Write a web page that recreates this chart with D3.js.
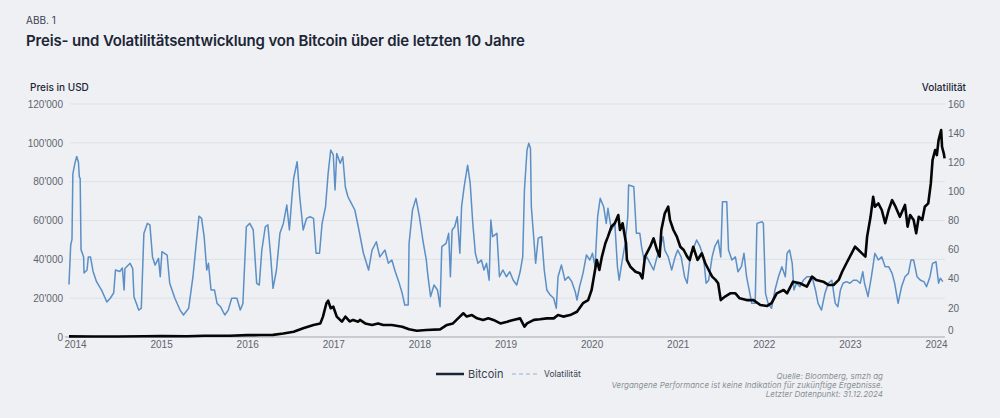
<!DOCTYPE html>
<html>
<head>
<meta charset="utf-8">
<script src="https://cdn.jsdelivr.net/npm/d3@7"></script>
<style>
  html, body { margin: 0; padding: 0; background: #eef0f3; }
  svg { display: block; font-family: Inter, "Noto Sans", sans-serif; }
  .grid line { stroke: #dde1e7; stroke-width: 1; }
  .tick text { fill: #5f656e; font-size: 10px; }
</style>
</head>
<body>
<div id="chart"></div>
<script>
// time axis is in "chart years" as labelled on the picture
var yearTicks = [2014, 2015, 2016, 2017, 2018, 2019, 2020, 2021, 2022, 2023, 2024];
var priceTicks = [0, 20000, 40000, 60000, 80000, 100000, 120000];
var volTicks = [0, 20, 40, 60, 80, 100, 120, 140, 160];

// Bitcoin price in USD
var btcTime = [2013.93, 2014.2, 2014.5, 2014.8, 2015.0, 2015.3, 2015.5, 2015.8, 2016.0, 2016.15, 2016.30, 2016.42,
  2016.54, 2016.65, 2016.77, 2016.85, 2016.88, 2016.92, 2016.94, 2016.97, 2017.00, 2017.04, 2017.10, 2017.14,
  2017.19, 2017.23, 2017.29, 2017.31, 2017.37, 2017.45, 2017.52, 2017.58, 2017.68, 2017.80, 2017.88, 2017.97,
  2018.08, 2018.24, 2018.32, 2018.39, 2018.47, 2018.51, 2018.55, 2018.61, 2018.67, 2018.74, 2018.80, 2018.86,
  2018.94, 2019.02, 2019.09, 2019.17, 2019.22, 2019.25, 2019.33, 2019.40, 2019.48, 2019.56, 2019.61, 2019.67,
  2019.75, 2019.83, 2019.90, 2019.96, 2020.00, 2020.04, 2020.06, 2020.09, 2020.12, 2020.16, 2020.19, 2020.23,
  2020.27, 2020.31, 2020.33, 2020.36, 2020.40, 2020.41, 2020.45, 2020.51, 2020.56, 2020.59, 2020.62, 2020.68,
  2020.72, 2020.76, 2020.79, 2020.81, 2020.85, 2020.89, 2020.91, 2020.95, 2020.99, 2021.03, 2021.07, 2021.11,
  2021.14, 2021.18, 2021.23, 2021.28, 2021.32, 2021.36, 2021.40, 2021.44, 2021.47, 2021.50, 2021.55, 2021.61,
  2021.67, 2021.72, 2021.80, 2021.88, 2021.96, 2022.04, 2022.09, 2022.15, 2022.23, 2022.27, 2022.34, 2022.42,
  2022.50, 2022.56, 2022.61, 2022.69, 2022.75, 2022.81, 2022.87, 2022.91, 2022.96, 2023.02, 2023.06, 2023.10,
  2023.14, 2023.18, 2023.20, 2023.24, 2023.27, 2023.29, 2023.33, 2023.37, 2023.41, 2023.45, 2023.49, 2023.53,
  2023.58, 2023.64, 2023.67, 2023.70, 2023.74, 2023.77, 2023.80, 2023.84, 2023.87, 2023.91, 2023.94, 2023.96,
  2023.99, 2024.01, 2024.03, 2024.06, 2024.07, 2024.09, 2024.10];
var btcPrice = [300, 250, 250, 380, 430, 420, 650, 620, 960, 1000, 1100, 1800,
  2700, 4500, 6200, 7000, 10500, 17400, 18700, 14800, 15600, 10500, 7900, 10500,
  8000, 8800, 7900, 8800, 7000, 6200, 7000, 6200, 6200, 5300, 3950, 3250,
  3600, 3950, 6200, 7000, 10500, 12200, 10500, 11300, 9600, 8800, 9600, 8800,
  7000, 7900, 8800, 9600, 5300, 7000, 8800, 9100, 9600, 9600, 11300, 10500,
  11300, 13000, 17400, 19000, 24200, 34500, 39700, 34500, 41400, 48300, 51700, 56800,
  58600, 62800, 55100, 58600, 48300, 39700, 36200, 33600, 32800, 30200, 41400, 46500,
  50800, 44800, 41400, 55100, 63700, 67100, 60300, 55100, 51700, 46500, 44800, 41400,
  39700, 46500, 39700, 43100, 38000, 34500, 31100, 29400, 27700, 19000, 20800, 22500,
  22500, 19900, 19000, 19000, 16500, 16000, 17400, 22500, 24200, 22500, 28500, 27700,
  25900, 31100, 29400, 28500, 26800, 26800, 29400, 33600, 38000, 43100, 46500, 44800,
  43100, 41400, 51700, 61900, 72200, 67100, 68800, 65400, 58600, 65400, 70500, 67100,
  61900, 68000, 56800, 62800, 60300, 53400, 61900, 60300, 67100, 68800, 79100, 91100,
  96300, 93700, 101400, 106600, 98000, 94600, 92000];

// Volatility
var volTime = [2013.93, 2013.95, 2013.965, 2013.975, 2014.00, 2014.02, 2014.04, 2014.05, 2014.06, 2014.07, 2014.10,
  2014.105, 2014.14, 2014.155, 2014.18, 2014.21, 2014.25, 2014.31, 2014.37, 2014.41, 2014.45, 2014.47, 2014.52,
  2014.55, 2014.57, 2014.58, 2014.64, 2014.67, 2014.685, 2014.74, 2014.77, 2014.80, 2014.84, 2014.87, 2014.90,
  2014.93, 2014.97, 2014.99, 2015.01, 2015.07, 2015.10, 2015.16, 2015.22, 2015.26, 2015.32, 2015.37, 2015.41,
  2015.44, 2015.47, 2015.50, 2015.53, 2015.55, 2015.58, 2015.62, 2015.65, 2015.69, 2015.74, 2015.78, 2015.82,
  2015.88, 2015.92, 2015.95, 2015.99, 2016.03, 2016.07, 2016.11, 2016.14, 2016.17, 2016.21, 2016.24, 2016.27,
  2016.30, 2016.34, 2016.38, 2016.42, 2016.46, 2016.49, 2016.52, 2016.54, 2016.58, 2016.61, 2016.65, 2016.69,
  2016.73, 2016.77, 2016.80, 2016.84, 2016.87, 2016.91, 2016.94, 2016.97, 2017.00, 2017.02, 2017.04, 2017.08,
  2017.11, 2017.14, 2017.17, 2017.21, 2017.25, 2017.29, 2017.35, 2017.41, 2017.45, 2017.50, 2017.54, 2017.60,
  2017.64, 2017.68, 2017.72, 2017.76, 2017.80, 2017.83, 2017.87, 2017.88, 2017.92, 2017.96, 2018.00, 2018.04,
  2018.08, 2018.10, 2018.13, 2018.17, 2018.21, 2018.24, 2018.26, 2018.31, 2018.34, 2018.36, 2018.38, 2018.41,
  2018.44, 2018.47, 2018.49, 2018.52, 2018.56, 2018.59, 2018.62, 2018.65, 2018.68, 2018.72, 2018.75, 2018.78,
  2018.81, 2018.83, 2018.85, 2018.90, 2018.93, 2018.97, 2019.01, 2019.05, 2019.09, 2019.13, 2019.17, 2019.20,
  2019.22, 2019.25, 2019.27, 2019.29, 2019.30, 2019.33, 2019.35, 2019.38, 2019.42, 2019.45, 2019.48, 2019.52,
  2019.56, 2019.59, 2019.61, 2019.65, 2019.69, 2019.73, 2019.77, 2019.81, 2019.83, 2019.86, 2019.90, 2019.94,
  2019.98, 2020.01, 2020.04, 2020.07, 2020.10, 2020.14, 2020.17, 2020.19, 2020.23, 2020.27, 2020.30, 2020.32,
  2020.35, 2020.39, 2020.42, 2020.43, 2020.49, 2020.52, 2020.56, 2020.58, 2020.61, 2020.64, 2020.68, 2020.72,
  2020.76, 2020.80, 2020.83, 2020.85, 2020.89, 2020.93, 2020.97, 2021.00, 2021.04, 2021.08, 2021.11, 2021.15,
  2021.19, 2021.22, 2021.26, 2021.30, 2021.33, 2021.36, 2021.40, 2021.43, 2021.47, 2021.50, 2021.52, 2021.57,
  2021.59, 2021.63, 2021.67, 2021.70, 2021.74, 2021.77, 2021.80, 2021.83, 2021.86, 2021.90, 2021.92, 2021.98,
  2021.995, 2022.02, 2022.05, 2022.09, 2022.13, 2022.17, 2022.21, 2022.25, 2022.27, 2022.30, 2022.33, 2022.35,
  2022.38, 2022.42, 2022.46, 2022.50, 2022.56, 2022.60, 2022.63, 2022.67, 2022.71, 2022.75, 2022.79, 2022.83,
  2022.86, 2022.89, 2022.92, 2022.96, 2023.00, 2023.04, 2023.08, 2023.12, 2023.15, 2023.17, 2023.21, 2023.25,
  2023.29, 2023.33, 2023.37, 2023.41, 2023.45, 2023.49, 2023.52, 2023.56, 2023.60, 2023.64, 2023.68, 2023.71,
  2023.74, 2023.78, 2023.82, 2023.86, 2023.89, 2023.93, 2023.96, 2024.00, 2024.03, 2024.05, 2024.08];
var volValue = [36, 63, 67, 112, 119.5, 124, 120, 110, 109, 60, 55,
  44, 46, 55, 55, 45, 38, 32, 24, 26.6, 30.4, 46, 45,
  47.4, 32.3, 47, 50.6, 47, 27.7, 18.5, 19.7, 71, 78, 77, 55,
  49.4, 54, 41.4, 58.6, 56.3, 36.9, 26.6, 18.5, 15.1, 19.7, 41.4, 65.4,
  83, 81.5, 68.9, 46, 50.6, 32.3, 32.3, 23.1, 20.8, 15.1, 18.5, 26.6,
  26.6, 18.5, 23, 75.7, 78, 73.5, 36.9, 35.7, 59.7, 75.7, 77, 57.5,
  33.4, 46, 71.2, 78, 90.6, 73.5, 96.3, 109, 120.4, 96.3, 73.5, 81.5,
  82.6, 81.5, 57.5, 57.5, 78, 89.5, 112.4, 128.4, 125, 101, 126, 119.3,
  123.8, 103, 96.3, 91.8, 87.2, 75.7, 57.5, 46, 59.7, 65.4, 55, 59.7,
  50.6, 52.9, 44.8, 38, 30, 22, 22, 64.3, 87.2, 95.2, 82.6, 66.6,
  52.9, 41.4, 27.7, 35.7, 32.3, 20.8, 62, 64.3, 71.2, 41.4, 73.5, 75.7,
  82.6, 57.5, 89.5, 103.2, 118, 105.5, 78, 57.5, 50.6, 52.9, 46, 50.6,
  39, 80.3, 68.9, 71.2, 41.4, 46, 41.4, 44.8, 39, 35.7, 44.8, 55,
  101, 128.4, 133, 129.6, 89.5, 66.6, 50.6, 67.8, 68.9, 46, 32.3, 28.8,
  26.6, 19.7, 41.4, 49.4, 39, 41.4, 38, 31.1, 25.4, 34.5, 43.7, 56.3,
  52.9, 57.5, 48.3, 82.6, 95.2, 89.5, 78, 88.4, 73.5, 78, 48.3, 39,
  50.6, 64.3, 82.6, 104.4, 103.2, 71.2, 71.2, 62, 52.9, 55, 50.6, 46,
  55, 62, 68.9, 59.7, 55, 46, 55, 59.7, 55, 41.4, 36.9, 57.5,
  62, 66.6, 62, 55, 36.9, 39, 55, 62, 66.6, 55, 92.9, 92.9,
  59.7, 52.9, 55, 44.8, 48.3, 57.5, 41.4, 32.3, 23.1, 23.1, 78, 79.2,
  78, 30, 23.1, 19.7, 32.3, 41.4, 48.3, 41.4, 57.5, 59.7, 50.6, 32.3,
  36.9, 34.5, 39, 41.4, 41.4, 32.3, 23.1, 18.5, 30, 36.9, 39, 23.1,
  20.8, 32.3, 36.9, 38, 36.9, 39, 39, 36.9, 44.8, 36.9, 27.7, 41.4,
  57.5, 52.9, 55, 48.3, 48.3, 43.7, 36.9, 23.1, 34.5, 41.4, 43.7, 52.9,
  52.9, 41.4, 39, 38, 34.5, 41.4, 50.6, 51.7, 36.9, 40.3, 38];

var sourceLines = ["Quelle: Bloomberg, smzh ag",
  "Vergangene Performance ist keine Indikation für zukünftige Ergebnisse.",
  "Letzter Datenpunkt: 31.12.2024"];

drawChart();

function drawChart() {
  var W = 1000, H = 418;
  var plot = { left: 70, right: 945, top: 104, bottom: 337 };

  var svg = d3.select("#chart").append("svg")
    .attr("width", W)
    .attr("height", H);

  svg.append("rect").attr("width", W).attr("height", H).attr("fill", "#eef0f3");

  var xScale = d3.scaleLinear().domain([2014, 2024]).range([75, 936]);
  var yPrice = d3.scaleLinear().domain([0, 120000]).range([plot.bottom, plot.top]);
  var yVol = d3.scaleLinear().domain([0, 160]).range([plot.bottom, plot.top]);

  // titles
  svg.append("text").attr("x", 26).attr("y", 24)
    .attr("font-size", 10).attr("fill", "#3a4150").text("ABB. 1");
  svg.append("text").attr("x", 26).attr("y", 46)
    .attr("font-size", 15).attr("font-weight", 600).attr("fill", "#1c2536")
    .attr("letter-spacing", -0.15)
    .text("Preis- und Volatilitätsentwicklung von Bitcoin über die letzten 10 Jahre");

  // gridlines
  svg.append("g").attr("class", "grid")
    .selectAll("line")
    .data(priceTicks.filter(function(d) { return d > 0; }))
    .enter().append("line")
    .attr("x1", plot.left).attr("x2", plot.right)
    .attr("y1", function(d) { return yPrice(d); })
    .attr("y2", function(d) { return yPrice(d); });

  // left axis
  var leftAxis = svg.append("g")
    .attr("transform", "translate(" + 63 + ",0)")
    .call(d3.axisLeft(yPrice).tickValues(priceTicks).tickSize(0).tickPadding(0)
      .tickFormat(function(d) { return d3.format(",")(d).replace(/,/g, "'"); }));
  leftAxis.select(".domain").remove();

  // right axis
  var rightAxis = svg.append("g")
    .attr("transform", "translate(" + 948 + ",0)")
    .call(d3.axisRight(yVol).tickValues(volTicks).tickSize(0).tickPadding(0));
  rightAxis.select(".domain").remove();
  rightAxis.selectAll(".tick").filter(function(d) { return d === 0; })
    .select("text").attr("dy", "-0.4em");

  // bottom axis
  var bottomAxis = svg.append("g")
    .attr("transform", "translate(0," + (plot.bottom + 4) + ")")
    .call(d3.axisBottom(xScale).tickValues(yearTicks).tickSize(0).tickPadding(0)
      .tickFormat(d3.format("d")));
  bottomAxis.select(".domain").remove();

  // zero line
  svg.append("line")
    .attr("x1", 65).attr("x2", plot.right)
    .attr("y1", yPrice(0)).attr("y2", yPrice(0))
    .attr("stroke", "#a3a8b0").attr("stroke-width", 1);

  // axis titles
  svg.append("text").attr("x", 30).attr("y", 91)
    .attr("font-size", 10).attr("font-weight", 500).attr("fill", "#1c2536").text("Preis in USD");
  svg.append("text").attr("x", 966).attr("y", 91).attr("text-anchor", "end")
    .attr("font-size", 10).attr("font-weight", 500).attr("fill", "#1c2536").text("Volatilität");

  var volLine = d3.line()
    .x(function(d, i) { return xScale(volTime[i]); })
    .y(function(d) { return yVol(d); });

  var btcLine = d3.line()
    .x(function(d, i) { return xScale(btcTime[i]); })
    .y(function(d) { return yPrice(d); });

  svg.append("path")
    .datum(volValue)
    .attr("d", volLine)
    .attr("fill", "none")
    .attr("stroke", "#5b8fc6")
    .attr("stroke-width", 1.5)
    .attr("stroke-linejoin", "round");

  svg.append("path")
    .datum(btcPrice)
    .attr("d", btcLine)
    .attr("fill", "none")
    .attr("stroke", "#050505")
    .attr("stroke-width", 2.6)
    .attr("stroke-linejoin", "round");

  // legend
  var legend = svg.append("g").attr("transform", "translate(0,374)");
  legend.append("line").attr("x1", 436).attr("x2", 464).attr("y1", 0).attr("y2", 0)
    .attr("stroke", "#1b2536").attr("stroke-width", 2.5);
  legend.append("text").attr("x", 468).attr("y", 4)
    .attr("font-size", 11).attr("fill", "#3a4150").text("Bitcoin");
  legend.append("line").attr("x1", 512).attr("x2", 539).attr("y1", 0).attr("y2", 0)
    .attr("stroke", "#8fb2da").attr("stroke-width", 1.2).attr("stroke-dasharray", "4,3");
  legend.append("text").attr("x", 544).attr("y", 3)
    .attr("font-size", 8.5).attr("fill", "#3a4150").text("Volatilität");

  // source notes
  svg.append("g").selectAll("text")
    .data(sourceLines)
    .enter().append("text")
    .attr("x", 883)
    .attr("y", function(d, i) { return 379 + i * 9; })
    .attr("text-anchor", "end")
    .attr("font-size", 8)
    .attr("font-style", "italic")
    .attr("fill", "#8a9099")
    .text(function(d) { return d; });
}
</script>
</body>
</html>
